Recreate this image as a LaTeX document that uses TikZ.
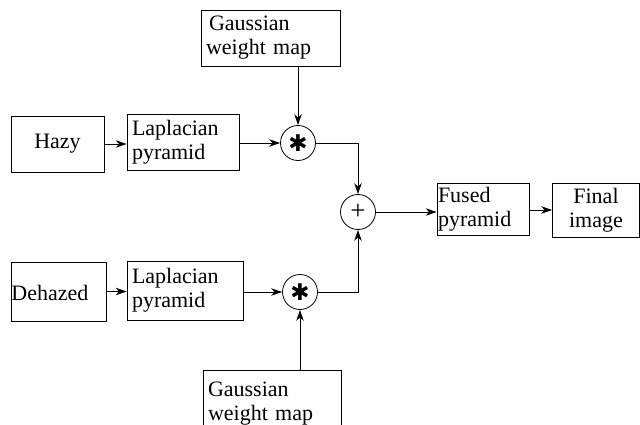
\documentclass[tikz,border=0pt]{standalone}
\usepackage{fontspec}
\setmainfont{Liberation Serif}
\newfontfamily\symfont{DejaVu Sans}
\usetikzlibrary{arrows.meta}
\begin{document}
\begin{tikzpicture}[x=1pt,y=-1pt,
  box/.style={draw, line width=0.8pt, inner sep=0pt, font=\fontsize{22}{24}\selectfont},
  lbox/.style={box, align=left},
  op/.style={draw, circle, line width=0.8pt, minimum size=35pt, inner sep=0pt},
  star/.style={op, font=\symfont\fontsize{23}{23}\selectfont},
  arr/.style={line width=0.8pt, -{Stealth[length=11pt,width=7.5pt]}},
  ln/.style={line width=0.8pt}]
\useasboundingbox (0,0) rectangle (640,425);
\clip (0,0) rectangle (640,425);
\node[lbox, minimum width=139pt, minimum height=56pt, text width=129pt] (g1) at (270.5,38) {\hspace*{3pt}Gaussian\\weight map};
\node[box, minimum width=93pt, minimum height=56pt] (hazy) at (57.5,144) {Hazy};
\node[lbox, minimum width=112pt, minimum height=56pt, text width=102pt] (lap1) at (183,142) {Laplacian\\pyramid};
\node[star] (s1) at (298,143) {✱};
\node[op, font=\fontsize{27}{27}\selectfont] (plus) at (358,212) {+};
\node[lbox, minimum width=92pt, minimum height=52pt, text width=90pt] (fused) at (483,209) {Fused\\pyramid};
\node[box, align=center, minimum width=87pt, minimum height=54pt] (final) at (596,210) {Final\\image};
\node[lbox, minimum width=95pt, minimum height=59pt, text width=94pt] (deh) at (58.5,291.5) {\\[-6pt]Dehazed};
\node[lbox, minimum width=116pt, minimum height=59pt, text width=106pt] (lap2) at (185,290.5) {Laplacian\\pyramid};
\node[star] (s2) at (300,292) {✱};
\node[lbox, minimum width=138pt, minimum height=66pt, text width=128pt, anchor=north] (g2) at (272,370) {Gaussian\\weight map\\[6pt]};
% connectors
\draw[arr] (hazy.east) -- (hazy.east -| lap1.west);
\draw[arr] (lap1.east |- s1) -- (s1.west);
\draw[arr] (g1.south -| s1) -- (s1.north);
\draw[arr] (s1.east) -| (plus.north);
\draw[arr] (s2.east) -| (plus.south);
\draw[arr] (plus.east) -- (plus.east -| fused.west);
\draw[arr] (fused.east |- final) -- (final.west);
\draw[arr] (deh.east) -- (deh.east -| lap2.west);
\draw[arr] (lap2.east |- s2) -- (s2.west);
\draw[arr] (g2.north -| s2) -- (s2.south);
\end{tikzpicture}
\end{document}
